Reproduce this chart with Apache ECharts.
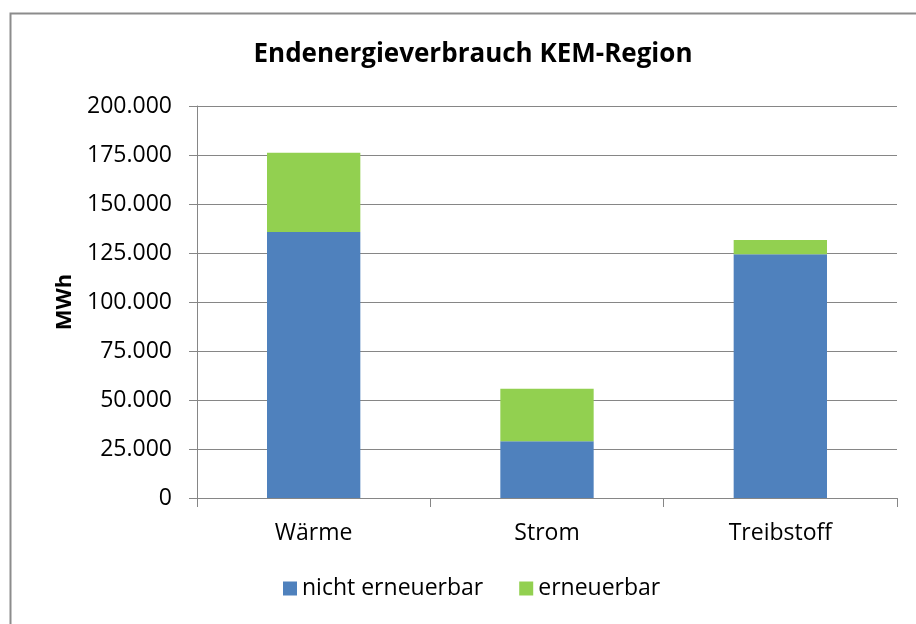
<!DOCTYPE html>
<html lang="de">
<head>
    <meta charset="UTF-8">
    <title>Endenergieverbrauch KEM-Region</title>
    <script src="https://cdn.jsdelivr.net/npm/echarts@6/dist/echarts.min.js"></script>
    <style>
        html, body { margin: 0; padding: 0; background: #fff; }
        #chart { width: 916px; height: 624px; }
    </style>
</head>
<body>
<div id="chart"></div>
<script type="text/javascript">
    // Daten (MWh)
    var categories = ['Wärme', 'Strom', 'Treibstoff'];
    var nichtErneuerbar = [135700, 29000, 124300];
    var erneuerbar = [40400, 26700, 7300];
    var seriesNames = ['nicht erneuerbar', 'erneuerbar'];

    var fontFam = '"Open Sans", "Noto Sans", sans-serif';

    function fmt(v) { // Tausenderpunkt
        return String(v).replace(/\B(?=(\d{3})+(?!\d))/g, '.');
    }

    var chart = echarts.init(document.getElementById('chart'));
    var option = {
        animation: false,
        backgroundColor: '#fff',
        graphic: [{
            type: 'rect',
            shape: { x: 10.5, y: 13.5, width: 930, height: 700 },
            style: { fill: 'none', stroke: '#8c8c8c', lineWidth: 2 },
            silent: true
        }],
        title: {
            text: 'Endenergieverbrauch KEM-Region',
            left: 468,
            textAlign: 'center',
            top: 37,
            textStyle: { fontFamily: fontFam, fontSize: 26, fontWeight: 'bold', color: '#000' }
        },
        legend: {
            data: seriesNames,
            bottom: 19,
            left: 278,
            itemWidth: 14,
            itemHeight: 14,
            itemGap: 36,
            icon: 'rect',
            textStyle: { fontFamily: fontFam, fontSize: 23, color: '#000' }
        },
        grid: { left: 197, right: 19, top: 106, bottom: 126 },
        xAxis: {
            type: 'category',
            data: categories,
            axisLine: { lineStyle: { color: '#868686', width: 1 } },
            axisTick: { show: true, length: 9, alignWithLabel: false, lineStyle: { color: '#868686' } },
            axisLabel: { fontFamily: fontFam, fontSize: 23, color: '#000', margin: 24 }
        },
        yAxis: {
            type: 'value',
            min: 0,
            max: 200000,
            interval: 25000,
            name: 'MWh',
            nameLocation: 'middle',
            nameGap: 121,
            nameRotate: 90,
            nameTextStyle: { fontFamily: fontFam, fontSize: 22, fontWeight: 'bold', color: '#000' },
            axisLine: { show: true, lineStyle: { color: '#868686' } },
            axisTick: { show: true, length: 8, lineStyle: { color: '#868686' } },
            splitLine: { lineStyle: { color: '#868686', width: 1 } },
            axisLabel: {
                fontFamily: fontFam, fontSize: 23, color: '#000', margin: 25,
                formatter: function (v) { return fmt(v); }
            }
        },
        series: [{
            name: seriesNames[0],
            type: 'bar',
            stack: 'total',
            data: nichtErneuerbar,
            barWidth: '40%',
            itemStyle: { color: '#4f81bd' }
        }, {
            name: seriesNames[1],
            type: 'bar',
            stack: 'total',
            data: erneuerbar,
            barWidth: '40%',
            itemStyle: { color: '#92d050' }
        }]
    };
    chart.setOption(option);
</script>
</body>
</html>
